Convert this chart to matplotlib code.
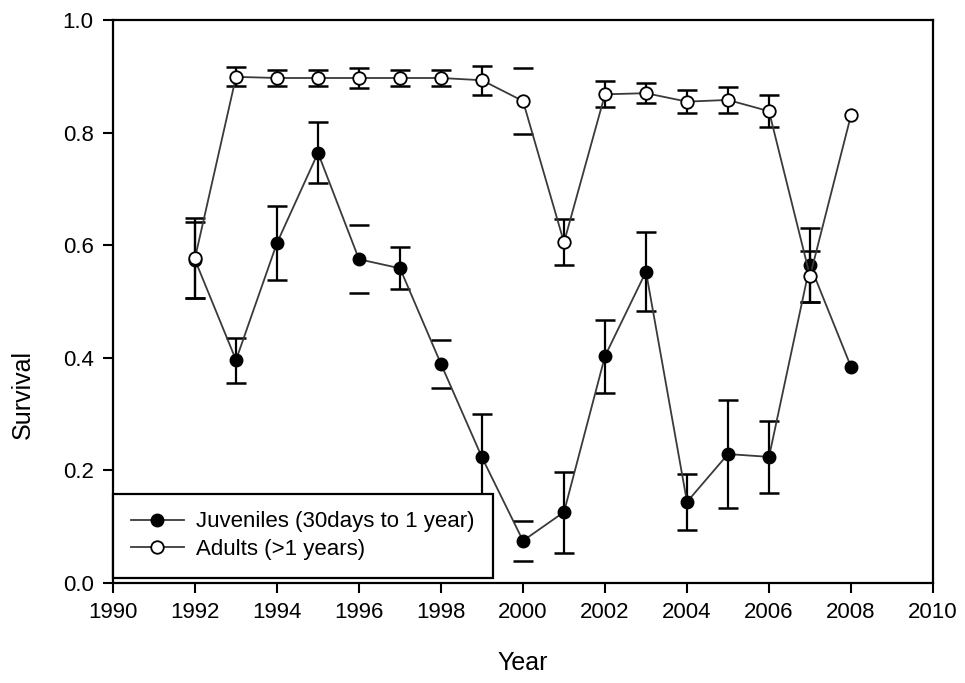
import numpy as np
import matplotlib
matplotlib.use('Agg')
import matplotlib.pyplot as plt

plt.rcParams['font.family'] = ['Liberation Sans', 'DejaVu Sans']

# survival estimates
years = [1992, 1993, 1994, 1995, 1996, 1997, 1998, 1999, 2000,
         2001, 2002, 2003, 2004, 2005, 2006, 2007, 2008]
juveniles = [0.574, 0.396, 0.604, 0.764, 0.575, 0.559, 0.389, 0.223, 0.075,
             0.126, 0.403, 0.553, 0.144, 0.229, 0.224, 0.565, 0.384]
juveniles_err = [0.067, 0.040, 0.066, 0.054, 0.060, 0.037, 0.042, 0.078, 0.036,
                 0.072, 0.065, 0.070, 0.049, 0.096, 0.064, 0.065, np.nan]
adults = [0.577, 0.899, 0.897, 0.897, 0.897, 0.897, 0.897, 0.893, 0.856,
          0.605, 0.868, 0.870, 0.855, 0.858, 0.838, 0.545, 0.831]
adults_err = [0.071, 0.017, 0.015, 0.014, 0.017, 0.015, 0.015, 0.026, 0.058,
              0.041, 0.023, 0.018, 0.020, 0.023, 0.028, 0.045, np.nan]

# years whose error bar shows only the caps in the original
juv_no_stem = [1996, 1998, 2000]
adult_no_stem = [2000]

juv_label = 'Juveniles (30days to 1 year)'
adult_label = 'Adults (>1 years)'

fig = plt.figure(figsize=(9.65, 6.83), dpi=100)
ax = fig.add_axes([113 / 965, 100 / 683, 820 / 965, 563 / 683])

line_col = '#3a3a3a'


def draw_bars(vals, errs, no_stem):
    _, caps, stems = ax.errorbar(years, vals, yerr=errs, fmt='none', ecolor='black',
                                 elinewidth=1.6, capsize=7, capthick=1.8, zorder=2)
    stems[0].set_linewidths([0 if y in no_stem else 1.6 for y in years])


draw_bars(juveniles, juveniles_err, juv_no_stem)
draw_bars(adults, adults_err, adult_no_stem)

ax.plot(years, juveniles, '-', color=line_col, lw=1.3, marker='o', ms=9,
        mfc='black', mec='black', label=juv_label, zorder=3)
ax.plot(years, adults, '-', color=line_col, lw=1.3, marker='o', ms=9,
        mfc='white', mec='black', mew=1.3, label=adult_label, zorder=4)

ax.set_xlim(1990, 2010)
ax.set_ylim(0, 1)
ax.set_xticks(np.arange(1990, 2011, 2))
ax.set_yticks(np.arange(0, 1.01, 0.2))
ax.set_yticklabels(['%.1f' % v for v in np.arange(0, 1.01, 0.2)])

for s in ax.spines.values():
    s.set_linewidth(1.6)
ax.tick_params(direction='out', length=7, width=1.5, labelsize=16, pad=7,
               top=False, right=False)

ax.set_xlabel('Year', fontsize=18, labelpad=20)
ax.set_ylabel('Survival', fontsize=18)
ax.yaxis.set_label_coords(-0.095, 0.334)

leg = ax.legend(loc='lower left', bbox_to_anchor=(0, 0.009, 0.463, 0.147),
                mode='expand', borderaxespad=0, fontsize=16, frameon=True,
                fancybox=False, framealpha=1, edgecolor='black',
                handlelength=2.4, handletextpad=0.55, labelspacing=0.3,
                borderpad=0.8)
leg.get_frame().set_linewidth(1.6)
leg.set_zorder(10)

fig.savefig('out.png', dpi=100)
